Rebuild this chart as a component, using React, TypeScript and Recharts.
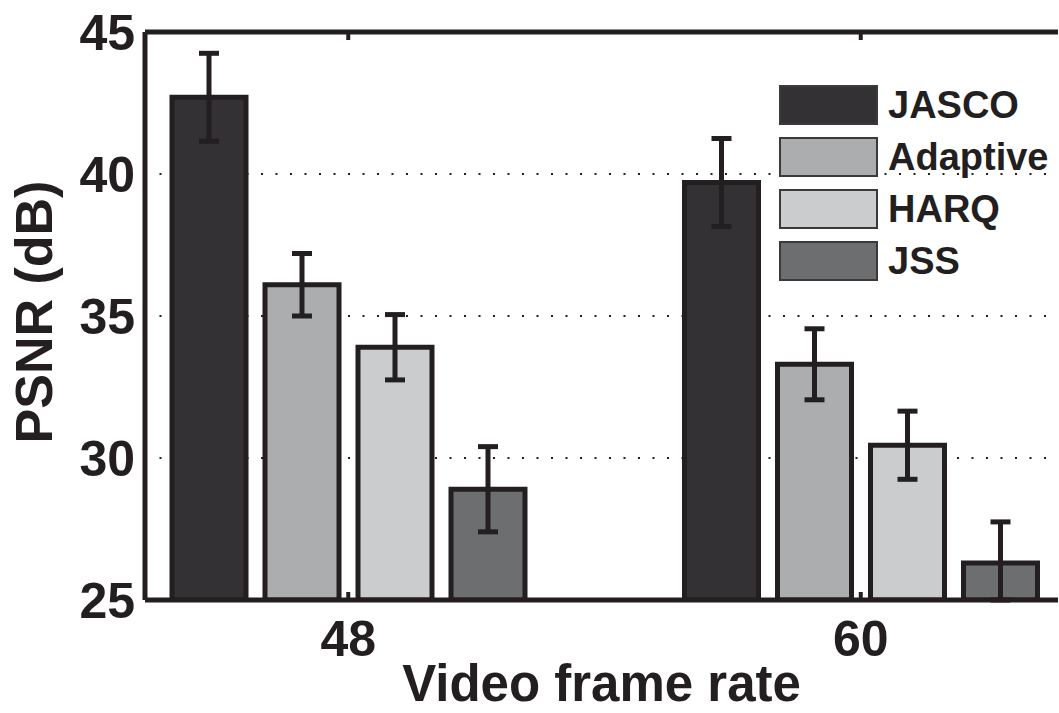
import React from 'react';
import {
  BarChart, Bar, XAxis, YAxis, CartesianGrid, ErrorBar, Legend, ReferenceLine
} from 'recharts';

// frame rates on the x axis
const categories = ['48', '60'];

// PSNR means (dB) and their error bar half-lengths
const jasco = [42.7, 39.7];
const jascoErr = [1.55, 1.55];
const adaptive = [36.1, 33.3];
const adaptiveErr = [1.1, 1.25];
const harq = [33.9, 30.45];
const harqErr = [1.15, 1.2];
const jss = [28.9, 26.3];
const jssErr = [1.5, 1.45];

const yTicks = [25, 30, 35, 40, 45];
const Y_MIN = 25;

const SERIES = [
  { key: 'jasco', name: 'JASCO', color: '#333134' },
  { key: 'adaptive', name: 'Adaptive', color: '#acadaf' },
  { key: 'harq', name: 'HARQ', color: '#cbccce' },
  { key: 'jss', name: 'JSS', color: '#6d6e70' },
];

// error bars are cut at the bottom of the axes, like the original plot
const err = (v: number, e: number) => [Math.min(e, v - Y_MIN), e];

const data = categories.map((rate, i) => ({
  rate,
  jasco: jasco[i], jascoErr: err(jasco[i], jascoErr[i]),
  adaptive: adaptive[i], adaptiveErr: err(adaptive[i], adaptiveErr[i]),
  harq: harq[i], harqErr: err(harq[i], harqErr[i]),
  jss: jss[i], jssErr: err(jss[i], jssErr[i]),
}));

const INK = '#231f20';
const FONT = '"Liberation Sans", Arial, Helvetica, sans-serif';
const PLOT_TOP = 32;
const X_TICK_MARGIN = 20;

const FrameTick = (props: any) => {
  const { x, y, payload } = props;
  const axisY = y - X_TICK_MARGIN;
  return (
    <g>
      <line x1={x} x2={x} y1={axisY} y2={axisY - 8} stroke={INK} strokeWidth={4} />
      <line x1={x} x2={x} y1={PLOT_TOP} y2={PLOT_TOP + 8} stroke={INK} strokeWidth={4} />
      <text x={x} y={y} dy="0.71em" textAnchor="middle" fill={INK}
        style={{ fontFamily: FONT, fontWeight: 700, fontSize: 50 }}>
        {payload.value}
      </text>
    </g>
  );
};

const yLabel = () => (
  <text x={52} y={312} transform="rotate(-90 52 312)" textAnchor="middle" fill={INK}
    style={{ fontFamily: FONT, fontWeight: 700, fontSize: 52 }}>
    PSNR (dB)
  </text>
);

const xLabel = (props: any) => {
  const vb = props.viewBox || { x: 145, width: 913 };
  return (
    <text x={vb.x + vb.width / 2} y={701} textAnchor="middle" fill={INK}
      style={{ fontFamily: FONT, fontWeight: 700, fontSize: 51 }}>
      Video frame rate
    </text>
  );
};

const renderLegend = () => (
  <div style={{ fontFamily: FONT, fontWeight: 700, fontSize: 38, color: INK }}>
    {SERIES.map(s => (
      <div key={s.key} style={{ display: 'flex', alignItems: 'center', height: 40, marginBottom: 12 }}>
        <div style={{
          width: 99, height: 40, boxSizing: 'border-box',
          border: '2px solid #3a3a3a', background: s.color
        }} />
        <span style={{ marginLeft: 10, whiteSpace: 'nowrap', lineHeight: '40px' }}>{s.name}</span>
      </div>
    ))}
  </div>
);

export default function App() {
  return (
    <div style={{
      position: 'absolute', left: 0, top: 0, width: 1059, height: 713,
      overflow: 'hidden', background: '#fff'
    }}>
      <BarChart
        width={1059}
        height={713}
        data={data}
        margin={{ top: PLOT_TOP, right: 1, bottom: 0, left: 0 }}
        barSize={74}
        barGap={19}
      >
        <CartesianGrid vertical={false} stroke={INK} strokeWidth={2} strokeDasharray="2 12.5" />
        {SERIES.map(s => (
          <Bar key={s.key} dataKey={s.key} name={s.name} fill={s.color}
            stroke={INK} strokeWidth={5} isAnimationActive={false}>
            <ErrorBar dataKey={`${s.key}Err`} width={10} strokeWidth={5} stroke={INK} />
          </Bar>
        ))}
        <ReferenceLine y={45} stroke={INK} strokeWidth={5} />
        <XAxis
          dataKey="rate"
          height={113}
          padding={{ left: -53, right: -59 }}
          axisLine={{ stroke: INK, strokeWidth: 5 }}
          tickLine={false}
          tickSize={0}
          tickMargin={X_TICK_MARGIN}
          tick={<FrameTick />}
          interval={0}
          label={xLabel}
        />
        <YAxis
          type="number"
          domain={[25, 45]}
          ticks={yTicks}
          allowDataOverflow
          width={145}
          axisLine={{ stroke: INK, strokeWidth: 5 }}
          tickLine={false}
          tickSize={0}
          tickMargin={10}
          tick={{ fill: INK, fontFamily: FONT, fontWeight: 700, fontSize: 50 }}
          label={yLabel}
        />
        <Legend
          layout="vertical"
          align="center"
          verticalAlign="middle"
          content={renderLegend}
          wrapperStyle={{ left: 779, top: 85, width: 300, right: 'auto', bottom: 'auto' }}
        />
      </BarChart>
    </div>
  );
}
